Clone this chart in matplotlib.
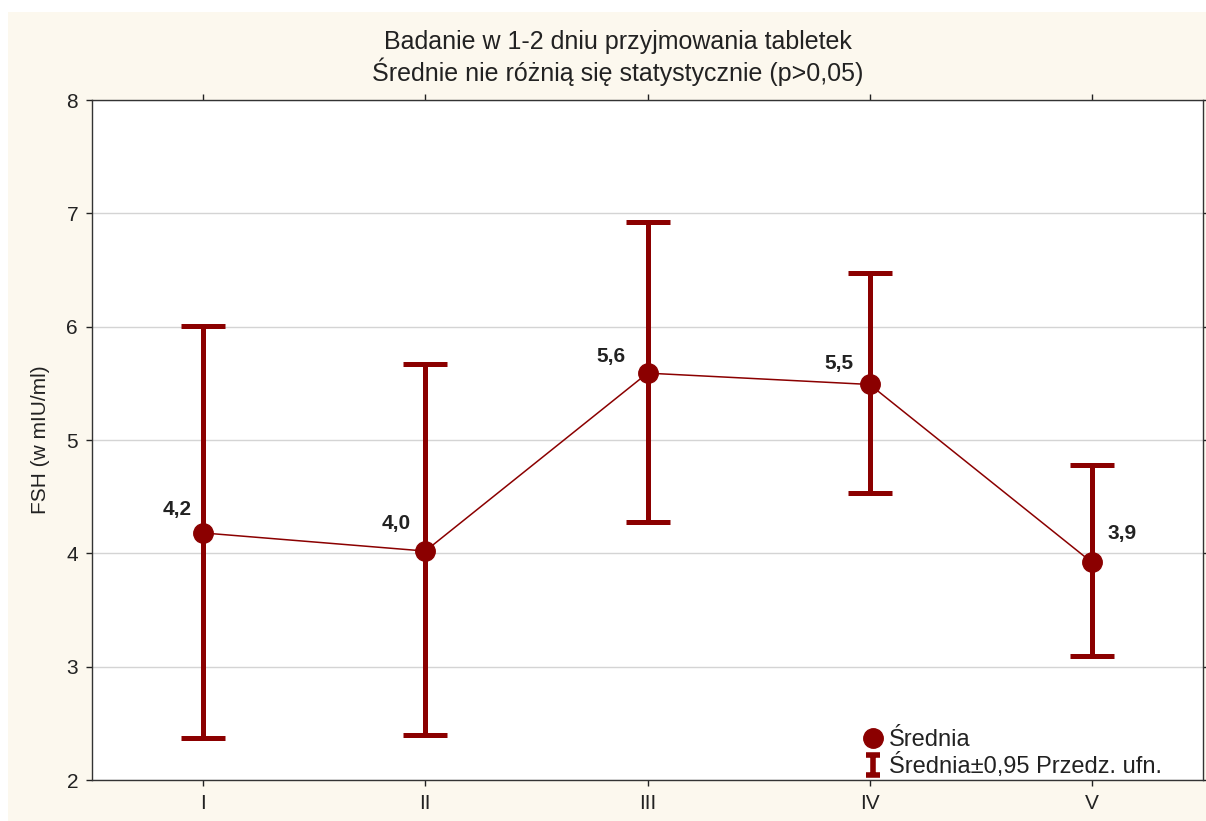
import matplotlib
matplotlib.use('Agg')
import matplotlib.pyplot as plt
from matplotlib.lines import Line2D
from matplotlib.path import Path
from matplotlib.patches import Rectangle
import numpy as np

# data
groups = ['I', 'II', 'III', 'IV', 'V']
means = [4.18, 4.02, 5.59, 5.49, 3.92]
ci_low = [2.37, 2.40, 4.28, 4.53, 3.09]
ci_high = [6.01, 5.67, 6.92, 6.47, 4.78]
mean_labels = ['4,2', '4,0', '5,6', '5,5', '3,9']
label_offsets = [(-19, 17), (-21, 20), (-26, 12), (-22, 15), (22, 21)]

RED = '#8b0000'
CREAM = '#fcf8ee'
TXT = '#222222'

plt.rcParams['font.family'] = ['Liberation Sans', 'DejaVu Sans']

fig = plt.figure(figsize=(12.06, 8.21), dpi=100, facecolor='white')
fig.patches.append(Rectangle((8 / 1206, 0), 1, (821 - 12) / 821,
                             transform=fig.transFigure, facecolor=CREAM,
                             edgecolor='none', zorder=-10))
ax = fig.add_axes([92 / 1206, 41 / 821, (1203 - 92) / 1206, 680 / 821])
ax.set_facecolor('white')

x = np.arange(len(groups))
m = np.array(means)
yerr = [m - np.array(ci_low), np.array(ci_high) - m]

ax.plot(x, m, color=RED, lw=1.1, zorder=3)
ax.errorbar(x, m, yerr=yerr, fmt='none', ecolor=RED, elinewidth=3.6,
            capsize=16, capthick=3.6, zorder=4)
ax.plot(x, m, 'o', color=RED, ms=14, zorder=5)

for xi, yi, lab, off in zip(x, m, mean_labels, label_offsets):
    ax.annotate(lab, (xi, yi), xytext=off, textcoords='offset points',
                ha='center', va='center', fontsize=15, fontweight='bold',
                color=TXT)

ax.set_xlim(-0.5, 4.5)
ax.set_ylim(2, 8)
ax.set_xticks(x)
ax.set_xticklabels(groups)
ax.set_yticks(range(2, 9))
ax.tick_params(direction='out', length=4, width=1, labelsize=15,
               colors=TXT, top=True, right=True, pad=6)
ax.yaxis.grid(True, color='#d4d4d4', lw=1)
ax.set_axisbelow(True)
for s in ax.spines.values():
    s.set_color('#333333')
    s.set_linewidth(1)

ax.set_ylabel('FSH (w mIU/ml)', fontsize=15, color=TXT, labelpad=12)

fig.text(618 / 1206, 1 - 42 / 821, 'Badanie w 1-2 dniu przyjmowania tabletek',
         ha='center', va='center', fontsize=18, color=TXT)
fig.text(618 / 1206, 1 - 72 / 821, 'Średnie nie różnią się statystycznie (p>0,05)',
         ha='center', va='center', fontsize=18, color=TXT)

# legend
ibar = Path([(-0.7, 1), (0.7, 1), (0, 1), (0, -1), (-0.7, -1), (0.7, -1)],
            [Path.MOVETO, Path.LINETO, Path.MOVETO, Path.LINETO,
             Path.MOVETO, Path.LINETO])
h_mean = Line2D([], [], marker='o', color=RED, ms=14, linestyle='none')
h_ci = Line2D([], [], marker=ibar, color=RED, ms=15, mew=4, linestyle='none')
ax.legend([h_mean, h_ci], ['Średnia', 'Średnia±0,95 Przedz. ufn.'],
          loc='lower left', bbox_to_anchor=(852 / 1206, 31 / 821),
          bbox_transform=fig.transFigure, frameon=False, fontsize=17,
          handlelength=0.8, handletextpad=0.25, labelspacing=0.1,
          borderpad=0, labelcolor=TXT)

fig.savefig('out.png', dpi=100, facecolor=fig.get_facecolor())
